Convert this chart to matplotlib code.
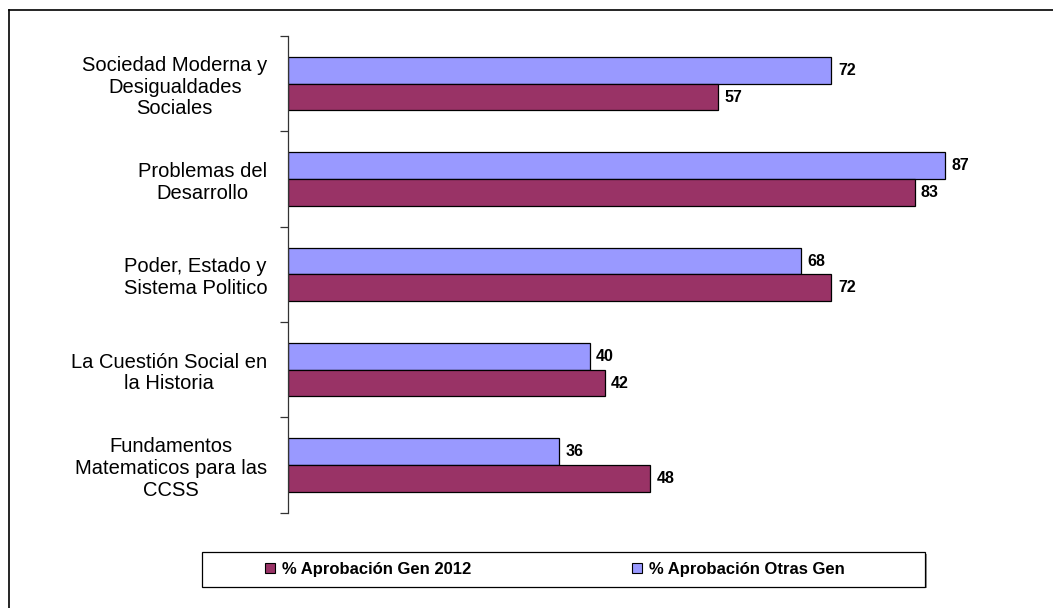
"""Horizontal grouped bars: % aprobación by course, Gen 2012 vs other cohorts."""
import matplotlib
matplotlib.use("Agg")
import matplotlib.pyplot as plt  # noqa: E402
from matplotlib.lines import Line2D  # noqa: E402
from matplotlib.patches import Patch, Rectangle  # noqa: E402
import numpy as np  # noqa: E402

plt.rcParams["font.family"] = ["Liberation Sans", "DejaVu Sans"]

cursos = [
    "Sociedad Moderna y\nDesigualdades\nSociales",
    "Problemas del\nDesarrollo",
    "Poder, Estado y\nSistema Politico",
    "La Cuestión Social en\nla Historia",
    "Fundamentos\nMatematicos para las\nCCSS",
]
gen_2012 = [57, 83, 72, 42, 48]
otras_gen = [72, 87, 68, 40, 36]
series_names = ["% Aprobación Gen 2012", "% Aprobación Otras Gen"]

RED, BLUE = "#993366", "#9999ff"
W, H = 1053, 608


def main():
    fig = plt.figure(figsize=(W / 100, H / 100), dpi=100)
    ax = fig.add_axes([287.5 / W, 1 - 512.7 / H, (1043 - 287.5) / W, (512.7 - 36) / H])

    y = np.arange(len(cursos))
    h = 0.28
    ax.barh(y - h / 2, otras_gen, height=h, color=BLUE, edgecolor="black", lw=0.9)
    ax.barh(y + h / 2, gen_2012, height=h, color=RED, edgecolor="black", lw=0.9)

    for yi, v in zip(y - h / 2, otras_gen):
        ax.text(v + 0.85, yi, f"{v}", va="center", ha="left", fontsize=11.5,
                fontweight="bold")
    for yi, v in zip(y + h / 2, gen_2012):
        ax.text(v + 0.85, yi, f"{v}", va="center", ha="left", fontsize=11.5,
                fontweight="bold")

    ax.set_xlim(0, 100)
    ax.set_ylim(len(cursos) - 0.5, -0.5)
    ax.set_xticks([])
    ax.set_yticks(y)
    ax.set_yticklabels(cursos, fontsize=14.5, multialignment="center",
                       linespacing=1.18)
    ax.tick_params(axis="y", which="major", length=0, pad=14.5)
    ax.set_yticks(np.arange(len(cursos) + 1) - 0.5, minor=True)
    ax.tick_params(axis="y", which="minor", length=6, width=0.9, color="#333333")
    for sp in ("top", "right", "bottom"):
        ax.spines[sp].set_visible(False)
    ax.spines["left"].set_color("#333333")
    ax.spines["left"].set_linewidth(0.9)

    # legend box (with a faint shadow) and its two entries
    x0, x1, y0, y1 = 201.7, 925.3, 552.3, 586.7
    fig.add_artist(Rectangle(((x0 + 1.5) / W, 1 - (y1 + 1.5) / H), (x1 - x0) / W,
                             (y1 - y0) / H, transform=fig.transFigure,
                             facecolor="#999999", edgecolor="none"))
    fig.add_artist(Rectangle((x0 / W, 1 - y1 / H), (x1 - x0) / W, (y1 - y0) / H,
                             transform=fig.transFigure, facecolor="white",
                             edgecolor="black", lw=0.9))
    ymid = 1 - 569.5 / H
    for name, col, xl in zip(series_names, (RED, BLUE), (265, 632)):
        leg = fig.legend([Patch(facecolor=col, edgecolor="black", lw=0.8)], [name],
                         frameon=False, loc="center left",
                         bbox_to_anchor=(xl / W, ymid), fontsize=12,
                         handlelength=0.6, handleheight=0.6, handletextpad=0.4,
                         borderpad=0, borderaxespad=0)
        for t in leg.get_texts():
            t.set_fontweight("bold")

    # chart-area border (right and bottom edges fall outside the image)
    fig.add_artist(Line2D([8.7 / W, 8.7 / W], [0, 1 - 10 / H], color="black",
                          lw=1.2, transform=fig.transFigure))
    fig.add_artist(Line2D([8.7 / W, 1], [1 - 10 / H, 1 - 10 / H], color="black",
                          lw=1.2, transform=fig.transFigure))

    fig.savefig("out.png", dpi=100)


if __name__ == "__main__":
    main()
